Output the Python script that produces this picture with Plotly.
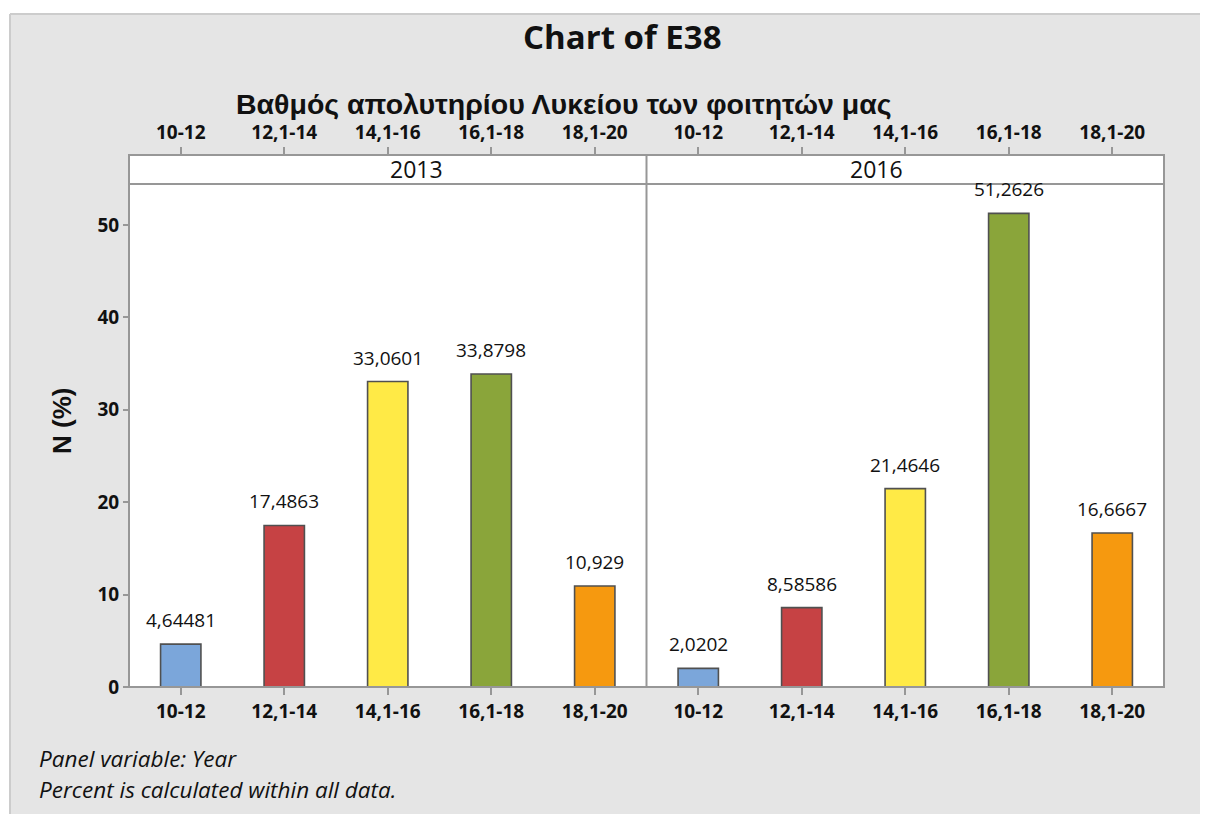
import plotly.graph_objects as go

# Data
categories = ['10-12', '12,1-14', '14,1-16', '16,1-18', '18,1-20']
years = ['2013', '2016']
pct_2013 = [4.64481, 17.4863, 33.0601, 33.8798, 10.929]
pct_2016 = [2.0202, 8.58586, 21.4646, 51.2626, 16.6667]
bar_colors = ['#7BA6DA', '#C64244', '#FFEA46', '#8AA53A', '#F6990F']
y_ticks = [0, 10, 20, 30, 40, 50]

# the page body has an 8px margin, so the figure is shrunk and shifted by it
OFF = 8
W, H = 1208 - OFF, 814 - OFF
L, R, T, B = 129, 1164, 155, 687   # plot area in screen pixels


def px(x):
    return (x - L) / (R - L)


def py(y):
    return (B - y) / (B - T)


GRAY = '#e5e5e5'
LINE = '#979797'
INK = '#111111'

fig = go.Figure()

for i, vals in enumerate([pct_2013, pct_2016]):
    xa = 'x' if i == 0 else 'x2'
    fig.add_trace(go.Bar(
        x=categories, y=vals, xaxis=xa, yaxis='y',
        width=0.39,
        marker=dict(color=bar_colors, line=dict(color='#505050', width=1.6)),
        showlegend=False, hoverinfo='x+y'
    ))
    # invisible traces so the top axes get drawn
    fig.add_trace(go.Scatter(
        x=categories, y=vals, xaxis='x3' if i == 0 else 'x4', yaxis='y',
        mode='markers', marker=dict(opacity=0), showlegend=False, hoverinfo='skip'
    ))
    for c, v in zip(categories, vals):
        fig.add_annotation(
            x=c, y=v, xref=xa, yref='y', text=str(v).replace('.', ','),
            showarrow=False, yanchor='bottom', yshift=9,
            font=dict(family='Open Sans', size=19, color=INK)
        )

common_x = dict(
    type='category', categoryorder='array', categoryarray=categories,
    range=[-0.5, 4.5], showgrid=False, zeroline=False, showline=False,
    ticks='outside', ticklen=7, tickwidth=1.5, tickcolor=LINE,
    tickfont=dict(family='Open Sans', size=19, color=INK, weight='bold'),
    fixedrange=True
)

fig.update_layout(
    width=W, height=H,
    margin=dict(l=L - OFF, r=1208 - R, t=T - OFF, b=814 - B),
    paper_bgcolor=GRAY, plot_bgcolor='white',
    xaxis=dict(common_x, domain=[0, 0.5], anchor='y'),
    xaxis2=dict(common_x, domain=[0.5, 1], anchor='y'),
    xaxis3=dict(common_x, domain=[0, 0.5], anchor='y', overlaying='x', side='top'),
    xaxis4=dict(common_x, domain=[0.5, 1], anchor='y', overlaying='x2', side='top'),
    yaxis=dict(
        range=[0, (B - T) / ((B - 225) / 50)], tickvals=y_ticks,
        showgrid=False, zeroline=False, showline=False,
        ticks='outside', ticklen=5, tickwidth=1.5, tickcolor=LINE,
        tickfont=dict(family='Open Sans', size=19, color=INK, weight='bold'),
        fixedrange=True
    ),
)

shapes = [
    # white outer margin (top and left)
    dict(type='rect', xref='paper', yref='paper', x0=px(0), x1=px(1215),
         y0=py(14), y1=py(0), fillcolor='white', line_width=0),
    dict(type='rect', xref='paper', yref='paper', x0=px(0), x1=px(10),
         y0=py(820), y1=py(0), fillcolor='white', line_width=0),
    dict(type='line', xref='paper', yref='paper', x0=px(10), x1=px(1215),
         y0=py(14), y1=py(14), line=dict(color='#cccccc', width=2)),
    dict(type='line', xref='paper', yref='paper', x0=px(10), x1=px(10),
         y0=py(14), y1=py(820), line=dict(color='#cccccc', width=2)),
    # plot frame, panel divider and strip
    dict(type='rect', xref='paper', yref='paper', x0=0, x1=1, y0=0, y1=1,
         line=dict(color=LINE, width=2)),
    dict(type='line', xref='paper', yref='paper', x0=0.5, x1=0.5, y0=0, y1=1,
         line=dict(color=LINE, width=2)),
    dict(type='line', xref='paper', yref='paper', x0=0, x1=1, y0=py(184), y1=py(184),
         line=dict(color=LINE, width=2)),
]
fig.update_layout(shapes=shapes)

# strip labels
for i, yr in enumerate(years):
    fig.add_annotation(x=0.25 + 0.5 * i, y=py(169.5), xref='paper', yref='paper',
                       text=yr, showarrow=False, yanchor='middle',
                       font=dict(family='Open Sans', size=23, color=INK))

# titles and footnotes
fig.add_annotation(x=px(622), y=py(36), xref='paper', yref='paper', text='<b>Chart of E38</b>',
                   showarrow=False, yanchor='middle',
                   font=dict(family='Open Sans', size=33, color=INK))
fig.add_annotation(x=px(564), y=py(104), xref='paper', yref='paper',
                   text='<b>Βαθμός απολυτηρίου Λυκείου των φοιτητών μας</b>',
                   showarrow=False, yanchor='middle',
                   font=dict(family='Liberation Sans', size=28.5, color=INK))
fig.add_annotation(x=px(62), y=py(421), xref='paper', yref='paper', text='<b>N (%)</b>',
                   showarrow=False, textangle=-90, xanchor='center', yanchor='middle',
                   font=dict(family='Liberation Sans', size=26, color=INK))
fig.add_annotation(x=px(37), y=py(758), xref='paper', yref='paper',
                   text='<i>Panel variable: Year</i>', showarrow=False,
                   xanchor='left', yanchor='middle',
                   font=dict(family='Open Sans', size=22.5, color=INK))
fig.add_annotation(x=px(37), y=py(789), xref='paper', yref='paper',
                   text='<i>Percent is calculated within all data.</i>', showarrow=False,
                   xanchor='left', yanchor='middle',
                   font=dict(family='Open Sans', size=22.5, color=INK))

fig.write_html("out.html")
